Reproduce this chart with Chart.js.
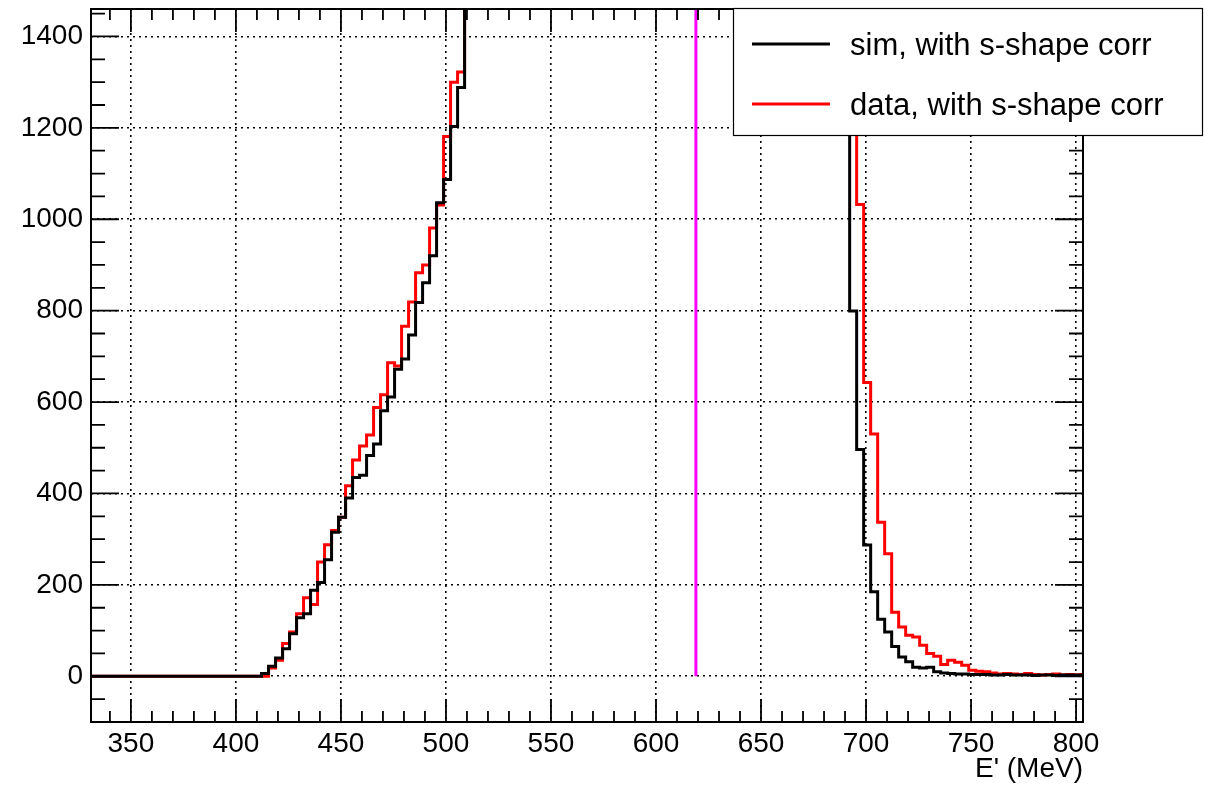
<!DOCTYPE html>
<html>
<head>
<meta charset="utf-8">
<script src="https://cdn.jsdelivr.net/npm/chart.js@4.4.1/dist/chart.umd.min.js"></script>
<style>html,body{margin:0;padding:0;background:#fff;}canvas{display:block;}</style>
</head>
<body>
<canvas id="c" width="1213" height="786"></canvas>
<script>
// ---- data ----
const seriesLabels = ['sim, with s-shape corr', 'data, with s-shape corr'];
const axisTitleX = "E' (MeV)";
const binWidth = 10 / 3;          // MeV per bin
const firstBinEdge = 328.87;      // MeV, low edge of first bin
// counts per bin (bins beyond the top of the frame are off-scale estimates)
const simCounts = [
  0,0,0,0,0,0,0,0,0,0,0,0,0,0,0,0,0,0,0,0,0,0,0,0,0,
  6,22,40,60,93,128,137,188,205,255,315,348,390,435,440,483,508,581,611,672,694,747,818,861,920,1036,1087,1203,1288,
  1530,1610,1690,1760,1840,1900,1980,2040,2110,2170,2230,2290,2350,2400,2460,2510,2570,2620,2680,2730,2790,2850,2910,2980,3040,3110,3190,3270,3350,3440,3530,3630,3740,3850,3970,4100,4240,4390,4550,4720,4900,5100,5300,5500,5700,5850,5900,5800,5500,4900,4100,3200,2400,1800,1550,
  799,496,287,185,125,97,65,42,32,20,18,20,10,7,6,5,5,4,4,4,3,3,4,3,3,3,2,3,3,2,3,3,3,2
];
const dataCounts = [
  0,0,0,0,0,0,0,0,0,0,0,0,0,0,0,0,0,0,0,0,0,0,0,0,0,
  0,18,35,72,97,137,172,157,250,288,319,348,417,473,504,528,588,616,686,679,766,819,883,900,981,1031,1181,1300,1322,
  1560,1640,1720,1790,1870,1930,2010,2070,2140,2200,2260,2320,2380,2430,2490,2540,2600,2650,2710,2760,2820,2880,2940,3010,3070,3140,3220,3300,3380,3470,3560,3660,3770,3880,4000,4130,4270,4420,4580,4750,4930,5120,5310,5490,5650,5760,5780,5650,5330,4800,4100,3300,2600,2000,1650,1480,
  1032,643,530,337,268,140,108,90,86,68,50,44,26,35,31,24,13,11,10,7,5,6,5,4,6,4,3,4,5,3,4,3,4
];
const cutEnergy = 619;            // MeV, vertical marker
const xTickValues = [350, 400, 450, 500, 550, 600, 650, 700, 750, 800];
const yTickValues = [0, 200, 400, 600, 800, 1000, 1200, 1400];
const xRange = [331, 803.3];
const yRange = [-100, 1460];
const xMinorStep = 10;
const yMinorStep = 50;

// ---- helpers ----
function histPoints(counts) {
  const pts = counts.map((c, i) => ({ x: firstBinEdge + i * binWidth, y: c }));
  pts.push({ x: firstBinEdge + counts.length * binWidth, y: counts[counts.length - 1] });
  return pts;
}
const FONT = 'Liberation Sans, Arial, Helvetica, sans-serif';

const rootStyle = {
  id: 'rootStyle',
  beforeDraw(chart) {
    const { ctx } = chart;
    ctx.save();
    ctx.fillStyle = '#fff';
    ctx.fillRect(0, 0, chart.width, chart.height);
    ctx.restore();
  },
  afterDraw(chart) {
    const { ctx, chartArea: a, scales: { x, y } } = chart;
    ctx.save();
    // inward ticks on all four sides
    ctx.strokeStyle = '#000';
    ctx.lineWidth = 1.8;
    ctx.beginPath();
    const x0 = Math.ceil(xRange[0] / xMinorStep) * xMinorStep;
    for (let v = x0; v <= xRange[1]; v += xMinorStep) {
      const px = x.getPixelForValue(v);
      const len = (v % 50 === 0) ? 23 : 11;
      ctx.moveTo(px, a.bottom); ctx.lineTo(px, a.bottom - len);
      ctx.moveTo(px, a.top); ctx.lineTo(px, a.top + len);
    }
    const y0 = Math.ceil(yRange[0] / yMinorStep) * yMinorStep;
    for (let v = y0; v <= yRange[1]; v += yMinorStep) {
      const py = y.getPixelForValue(v);
      const len = (v % 200 === 0) ? 28 : 14;
      ctx.moveTo(a.left, py); ctx.lineTo(a.left + len, py);
      ctx.moveTo(a.right, py); ctx.lineTo(a.right - len, py);
    }
    ctx.stroke();
    // frame
    ctx.lineWidth = 2;
    ctx.strokeRect(a.left, a.top, a.right - a.left, a.bottom - a.top);

    // legend box
    const L = { x: 733, y: 8, w: 470, h: 128 };
    ctx.fillStyle = '#fff';
    ctx.fillRect(L.x, L.y, L.w, L.h);
    ctx.lineWidth = 1.2;
    ctx.strokeRect(L.x + 0.5, L.y + 0.5, L.w - 1, L.h - 1);
    const entries = chart.data.datasets.filter(d => d.label);
    entries.forEach((d, i) => {
      const cy = L.y + 36 + i * 60;
      ctx.strokeStyle = d.borderColor;
      ctx.lineWidth = 3;
      ctx.beginPath();
      ctx.moveTo(L.x + 19, cy); ctx.lineTo(L.x + 97, cy);
      ctx.stroke();
      ctx.fillStyle = '#000';
      ctx.font = '31px ' + FONT;
      ctx.textAlign = 'left';
      ctx.textBaseline = 'middle';
      ctx.fillText(d.label, L.x + 117, cy + 2);
    });
    ctx.restore();
  }
};

const tickFont = { family: FONT, size: 28 };

new Chart(document.getElementById('c'), {
  type: 'line',
  data: {
    datasets: [
      { label: seriesLabels[0], data: histPoints(simCounts), borderColor: '#000000', borderWidth: 3,
        stepped: 'before', pointRadius: 0, fill: false, clip: 0 },
      { label: seriesLabels[1], data: histPoints(dataCounts), borderColor: '#ff0000', borderWidth: 3,
        stepped: 'before', pointRadius: 0, fill: false, clip: 0 },
      { label: '', data: [{ x: cutEnergy, y: 0 }, { x: cutEnergy, y: yRange[1] }], borderColor: '#ff00ff',
        borderWidth: 3, pointRadius: 0, fill: false, clip: 0 }
    ]
  },
  options: {
    responsive: false,
    animation: false,
    events: [],
    layout: { padding: { top: 9, right: 130, left: 0, bottom: 0 } },
    plugins: { legend: { display: false }, tooltip: { enabled: false }, title: { display: false } },
    scales: {
      x: {
        type: 'linear', min: xRange[0], max: xRange[1], z: 1,
        afterBuildTicks: s => { s.ticks = xTickValues.map(v => ({ value: v })); },
        afterFit: s => { s.height = 64; s.paddingLeft = 0; s.paddingRight = 0; },
        ticks: { font: tickFont, color: '#000', padding: 5, maxRotation: 0, autoSkip: false, callback: v => String(v) },
        grid: { color: '#000', lineWidth: 1.6, drawTicks: false },
        border: { display: false, dash: [2, 4] },
        title: { display: true, text: axisTitleX, align: 'end', color: '#000', font: tickFont, padding: { top: 0, bottom: 0 } }
      },
      y: {
        type: 'linear', min: yRange[0], max: yRange[1], z: 1,
        afterBuildTicks: s => { s.ticks = yTickValues.map(v => ({ value: v })); },
        afterFit: s => { s.width = 91; s.paddingTop = 0; s.paddingBottom = 0; },
        ticks: { font: tickFont, color: '#000', padding: 8, autoSkip: false, callback: v => String(v) },
        grid: { color: '#000', lineWidth: 1.6, drawTicks: false },
        border: { display: false, dash: [2, 4] }
      }
    }
  },
  plugins: [rootStyle]
});
</script>
</body>
</html>
